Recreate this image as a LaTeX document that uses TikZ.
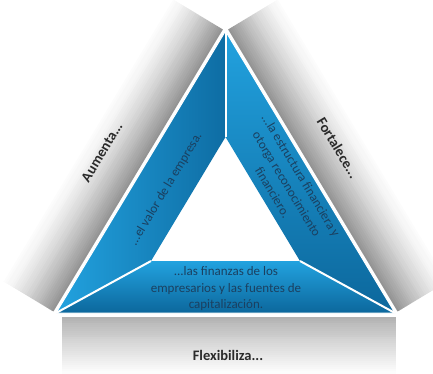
\documentclass[tikz,border=0pt]{standalone}
\usepackage{fontspec}
\setmainfont{Carlito}
\definecolor{blueLight}{HTML}{22A2DF}
\definecolor{blueMid}{HTML}{1784C2}
\definecolor{blueDark}{HTML}{0C679C}
\definecolor{labelGray}{HTML}{2A2A2A}
\definecolor{panelText}{HTML}{1B4060}
\tikzset{
  outerlabel/.style={font=\fontsize{14.5}{17}\selectfont\bfseries, text=labelGray, inner sep=0pt},
  paneltext/.style={font=\fontsize{13}{16.5}\selectfont, text=panelText, inner sep=0pt, align=center},
  separator/.style={white, line width=2pt},
}
\begin{document}
\begin{tikzpicture}[x=1pt,y=-1pt]
\useasboundingbox (0,0) rectangle (433,373);
% key points
\coordinate (A) at (225.5,31);
\coordinate (BL) at (56,313);
\coordinate (BR) at (395,313);
\coordinate (IA) at (225.5,137);
\coordinate (IL) at (151,261);
\coordinate (IR) at (300,261);
% left gray band
\begin{scope}[shift={(BL)},rotate=59]
  \foreach \i in {0,...,29}{
    \pgfmathsetmacro\ta{-3-2*\i}
    \pgfmathsetmacro\tb{\ta-2.6}
    \pgfmathtruncatemacro\p{round(42*(1-\i/30)^1.4)}
    \fill[black!\p] (0,\ta) -- (329,\ta) -- (329,\tb) -- (0,\tb) -- cycle;
  }
\end{scope}
% right gray band
\begin{scope}[shift={(BR)},rotate=121]
  \foreach \i in {0,...,29}{
    \pgfmathsetmacro\ta{3+2*\i}
    \pgfmathsetmacro\tb{\ta+2.6}
    \pgfmathtruncatemacro\p{round(42*(1-\i/30)^1.4)}
    \fill[black!\p] (0,\ta) -- (329,\ta) -- (329,\tb) -- (0,\tb) -- cycle;
  }
\end{scope}
% bottom gray band
\foreach \i in {0,...,27}{
  \pgfmathsetmacro\ya{317+2*\i}
  \pgfmathsetmacro\yb{\ya+2.6}
  \pgfmathtruncatemacro\p{round(30*(1-\i/28)^1.1)}
  \fill[black!\p] (62,\ya) -- (396,\ya) -- (396,\yb) -- (62,\yb) -- cycle;
}
% blue panels
\shade[left color=blueLight, right color=blueDark!80!blueMid] (A) -- (IA) -- (IL) -- (BL) -- cycle;
\shade[top color=blueLight, bottom color=blueDark] (A) -- (BR) -- (IR) -- (IA) -- cycle;
\shade[top color=blueLight, bottom color=blueDark] (IL) -- (IR) -- (BR) -- (BL) -- cycle;
% separators
\draw[separator] (A) -- (IA);
\draw[separator] (BL) -- (IL);
\draw[separator] (BR) -- (IR);
\draw[white, line width=1pt, line join=miter] (A) -- (BL) -- (BR) -- cycle;
% outer labels
\node[outerlabel, rotate=59] (aum) at (102,152) {Aumenta...};
\node[outerlabel, rotate=-59] (fort) at (338,148) {Fortalece...};
\node[outerlabel] (flex) at (228,355) {Flexibiliza...};
% panel texts
\node[paneltext, rotate=59] (t1) at (166,189) {...el valor de la empresa.};
\node[paneltext, rotate=-59] (t2) at (287,184) {...la estructura financiera y\\otorga reconocimiento\\financiero.};
\node[paneltext] (t3) at (226,289) {...las finanzas de los\\empresarios y las fuentes de\\capitalización.};
\end{tikzpicture}
\end{document}
